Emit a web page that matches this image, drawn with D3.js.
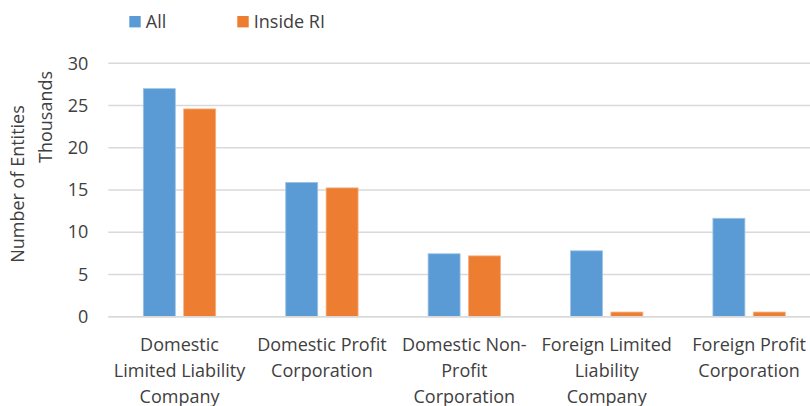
<!DOCTYPE html>
<html>
<head>
<meta charset="utf-8">
<script src="https://cdn.jsdelivr.net/npm/d3@7"></script>
<style>
  html, body { margin: 0; padding: 0; background: #fff; }
  svg { display: block; font-family: "Open Sans", "Noto Sans", sans-serif; }
</style>
</head>
<body>
<svg id="chart" width="810" height="406"></svg>
<script>
const categories = [
  "Domestic Limited Liability Company",
  "Domestic Profit Corporation",
  "Domestic Non-Profit Corporation",
  "Foreign Limited Liability Company",
  "Foreign Profit Corporation"
];
const seriesNames = ["All", "Inside RI"];
const allValues = [27.0, 15.9, 7.45, 7.8, 11.65];
const insideRIValues = [24.6, 15.25, 7.2, 0.55, 0.55];
const yTicks = [0, 5, 10, 15, 20, 25, 30];
const colors = ["#5b9bd5", "#ed7d31"];

const svg = d3.select("#chart");
const textColor = "#404040";
const gridColor = "#d9d9d9";
const fontSize = "18px";

const plot = { left: 108.3, right: 820.3, top: 63.3, bottom: 316.7 };

const x = d3.scaleBand().domain(categories).range([plot.left, plot.right]).paddingInner(0).paddingOuter(0);
const xs = d3.scaleBand().domain(seriesNames).range([0, x.bandwidth()]).paddingInner(0.208).paddingOuter(0.867);
const y = d3.scaleLinear().domain([0, 30]).range([plot.bottom, plot.top]);

// gridlines
svg.append("g").selectAll("line").data(yTicks).join("line")
  .attr("x1", plot.left).attr("x2", plot.right)
  .attr("y1", d => y(d)).attr("y2", d => y(d))
  .attr("stroke", gridColor).attr("stroke-width", 1.5);

// y axis labels
const yAxis = d3.axisLeft(y).tickValues(yTicks).tickSize(0).tickPadding(0);
const yg = svg.append("g").attr("transform", `translate(${plot.left - 20},0)`).call(yAxis);
yg.select(".domain").remove();
yg.selectAll("text").attr("fill", textColor).style("font-size", fontSize)
  .style("font-family", '"Open Sans", "Noto Sans", sans-serif');

// bars
const data = categories.map((c, i) => ({ cat: c, vals: [allValues[i], insideRIValues[i]] }));
const groups = svg.append("g").selectAll("g").data(data).join("g")
  .attr("transform", d => `translate(${x(d.cat)},0)`);
groups.selectAll("rect").data(d => d.vals.map((v, j) => ({ s: seriesNames[j], v, j })))
  .join("rect")
  .attr("x", d => xs(d.s))
  .attr("width", xs.bandwidth())
  .attr("y", d => y(d.v))
  .attr("height", d => y(0) - y(d.v))
  .attr("fill", d => colors[d.j])
  .attr("stroke", d => d.j === 0 ? "#9dc3e6" : "#f4b183")
  .attr("stroke-width", 0.8);

// x axis line
svg.append("line").attr("x1", plot.left).attr("x2", plot.right)
  .attr("y1", plot.bottom).attr("y2", plot.bottom)
  .attr("stroke", gridColor).attr("stroke-width", 1.5);

// x axis labels with wrapping
const xAxis = d3.axisBottom(x).tickSize(0).tickPadding(0);
const xg = svg.append("g").attr("transform", `translate(0,${plot.bottom})`).call(xAxis);
xg.select(".domain").remove();
xg.selectAll("text").attr("fill", textColor).style("font-size", fontSize)
  .style("font-family", '"Open Sans", "Noto Sans", sans-serif')
  .each(function(d) {
    const t = d3.select(this);
    const tokens = d.replace(/-/g, "- ").split(" ").filter(s => s.length);
    t.text(null).attr("y", 0).attr("dy", null);
    const maxW = 140;
    let lines = [];
    let cur = "";
    const tmp = t.append("tspan");
    tokens.forEach(tok => {
      const cand = cur === "" ? tok : (cur.endsWith("-") ? cur + tok : cur + " " + tok);
      tmp.text(cand);
      if (tmp.node().getComputedTextLength() > maxW && cur !== "") {
        lines.push(cur);
        cur = tok;
      } else {
        cur = cand;
      }
    });
    lines.push(cur);
    tmp.remove();
    lines.forEach((ln, k) => {
      t.append("tspan").attr("x", 0).attr("y", 34 + k * 26).text(ln);
    });
  });

// y axis title
svg.append("text")
  .attr("transform", `translate(24,184) rotate(-90)`)
  .attr("text-anchor", "middle")
  .attr("fill", textColor).style("font-size", fontSize)
  .text("Number of Entities");
svg.append("text")
  .attr("transform", `translate(52,117) rotate(-90)`)
  .attr("text-anchor", "middle")
  .attr("fill", textColor).style("font-size", fontSize)
  .text("Thousands");

// legend
const legendX = [129.3, 237.3];
const lg = svg.append("g").selectAll("g").data(seriesNames).join("g")
  .attr("transform", (d, i) => `translate(${legendX[i]},16)`);
lg.append("rect").attr("width", 11.4).attr("height", 11.4).attr("fill", (d, i) => colors[i]);
lg.append("text").attr("x", 16.5).attr("y", 5.7).attr("dy", "0.35em")
  .attr("fill", textColor).style("font-size", fontSize).text(d => d);
</script>
</body>
</html>
